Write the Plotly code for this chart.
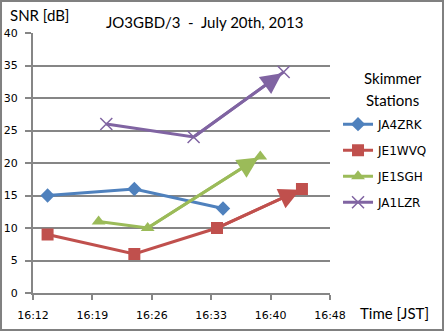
import plotly.graph_objects as go

DAY = "2013-07-20 "
names = ["JA4ZRK", "JE1WVQ", "JE1SGH", "JA1LZR"]
times = [
    ["16:13:46", "16:24:17", "16:35:02"],
    ["16:13:46", "16:24:17", "16:34:18", "16:44:36"],
    ["16:19:57", "16:25:54", "16:39:33"],
    ["16:20:53", "16:31:28", "16:42:23"],
]
snr = [
    [15, 16, 13],
    [9, 6, 10, 16],
    [11, 10, 21],
    [26, 24, 34],
]
has_arrow = [False, True, True, True]
colors = ["#4F81BD", "#C0504D", "#9BBB59", "#8064A2"]
symbols = ["diamond", "square", "triangle-up", "x-thin"]
msizes = [11, 12, 12, 12]

tick_times = ["16:12:00", "16:19:12", "16:26:24", "16:33:36", "16:40:48", "16:48:00"]
tick_labels = ["16:12", "16:19", "16:26", "16:33", "16:40", "16:48"]
y_ticks = [0, 5, 10, 15, 20, 25, 30, 35, 40]

GRID = "#868686"
TICKFONT = dict(family="DejaVu Sans", size=11, color="#000000")
LEGFONT = dict(family="DejaVu Sans", size=12, color="#000000")
LABELFONT = dict(family="Lato", size=15, color="#000000")

fig = go.Figure()
for i, n in enumerate(names):
    xs = [DAY + t for t in times[i]]
    marker = dict(symbol=symbols[i], size=msizes[i], color=colors[i])
    if symbols[i] == "x-thin":
        marker["line"] = dict(color=colors[i], width=1.5)
    fig.add_trace(go.Scatter(
        x=xs, y=snr[i], name=n, mode="lines+markers",
        line=dict(color=colors[i], width=3), marker=marker,
        legendgroup=n,
    ))
    if has_arrow[i]:
        fig.add_annotation(
            x=xs[-1], y=snr[i][-1], ax=xs[-2], ay=snr[i][-2],
            xref="x", yref="y", axref="x", ayref="y",
            text="", showarrow=True, arrowhead=2, arrowsize=1.4,
            arrowwidth=3, arrowcolor=colors[i], standoff=2,
        )

fig.update_xaxes(
    range=[DAY + "16:12:00", DAY + "16:48:00"],
    tickmode="array", tickvals=[DAY + t for t in tick_times], ticktext=tick_labels,
    showgrid=False, showline=True, linecolor=GRID, linewidth=2,
    ticks="outside", ticklen=5, tickwidth=2, tickcolor=GRID,
    tickfont=TICKFONT, zeroline=False, ticklabelstandoff=6, automargin=False,
)
fig.update_yaxes(
    range=[0, 40], tickmode="array", tickvals=y_ticks,
    showgrid=True, gridcolor=GRID, gridwidth=2,
    showline=True, linecolor=GRID, linewidth=2,
    ticks="outside", ticklen=6, tickwidth=2, tickcolor=GRID,
    tickfont=TICKFONT, zeroline=False, ticklabelstandoff=5, automargin=False,
)

ann = [
    dict(text="JO3GBD/3  -  July 20th, 2013", x=0.579, y=1.042, xanchor="center", yanchor="middle"),
    dict(text="SNR [dB]", x=-0.084, y=1.069, xanchor="left", yanchor="middle"),
    dict(text="Time [JST]", x=1.094, y=-0.077, xanchor="left", yanchor="middle"),
    dict(text="Skimmer", x=1.212, y=0.827, xanchor="center", yanchor="middle"),
    dict(text="Stations", x=1.212, y=0.742, xanchor="center", yanchor="middle"),
]
for a in ann:
    fig.add_annotation(xref="paper", yref="paper", showarrow=False, font=LABELFONT, **a)

fig.add_shape(type="rect", xref="paper", yref="paper",
              x0=-0.1077, x1=1.3805, y0=-0.1423, y1=1.123,
              line=dict(color="#808080", width=2), fillcolor="rgba(0,0,0,0)")

fig.update_layout(
    width=445, height=332,
    margin=dict(l=33, r=115, t=33, b=39, autoexpand=False),
    paper_bgcolor="white", plot_bgcolor="white",
    showlegend=True,
    legend=dict(x=1.027, xanchor="left", y=0.705, yanchor="top",
                font=LEGFONT, traceorder="grouped", tracegroupgap=7,
                bgcolor="rgba(0,0,0,0)", itemwidth=30),
)
fig.write_html("out.html")
